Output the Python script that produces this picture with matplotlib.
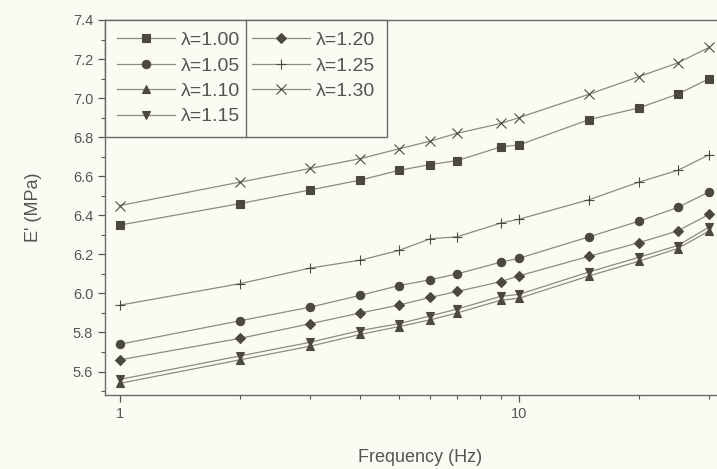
import matplotlib.pyplot as plt
from matplotlib.ticker import FixedLocator, NullFormatter, MultipleLocator

plt.rcParams['font.family'] = ['Liberation Sans', 'DejaVu Sans']

freq = [1, 2, 3, 4, 5, 6, 7, 9, 10, 15, 20, 25, 30]

e_100 = [6.35, 6.46, 6.53, 6.58, 6.63, 6.66, 6.68, 6.75, 6.76, 6.89, 6.95, 7.02, 7.10]
e_105 = [5.74, 5.86, 5.93, 5.99, 6.04, 6.07, 6.10, 6.16, 6.18, 6.29, 6.37, 6.44, 6.52]
e_110 = [5.54, 5.66, 5.73, 5.79, 5.83, 5.865, 5.90, 5.965, 5.975, 6.09, 6.165, 6.23, 6.32]
e_115 = [5.56, 5.68, 5.75, 5.81, 5.845, 5.885, 5.92, 5.985, 5.995, 6.11, 6.185, 6.245, 6.34]
e_120 = [5.66, 5.77, 5.845, 5.90, 5.94, 5.98, 6.01, 6.06, 6.09, 6.19, 6.26, 6.32, 6.405]
e_125 = [5.94, 6.05, 6.13, 6.17, 6.22, 6.28, 6.29, 6.36, 6.38, 6.48, 6.57, 6.63, 6.71]
e_130 = [6.45, 6.57, 6.64, 6.69, 6.74, 6.78, 6.82, 6.87, 6.90, 7.02, 7.11, 7.18, 7.26]

series = [
    ('λ=1.00', e_100, 's'),
    ('λ=1.05', e_105, 'o'),
    ('λ=1.10', e_110, '^'),
    ('λ=1.15', e_115, 'v'),
    ('λ=1.20', e_120, 'D'),
    ('λ=1.25', e_125, '+'),
    ('λ=1.30', e_130, 'x'),
]

bg = '#fbfbf4'
ink = '#4a4840'
line_c = '#8c8a82'
txt = '#555550'

fig = plt.figure(figsize=(7.17, 4.69), dpi=100, facecolor=bg)
ax = fig.add_axes([0.1464, 0.1578, 0.88, 0.7996], facecolor=bg)

for label, vals, m in series:
    size = {'+': 7, 'x': 7, 'D': 5.5}.get(m, 6)
    ax.plot(freq, vals, color=line_c, lw=0.9, marker=m, markersize=size,
            markerfacecolor=ink, markeredgecolor=ink, markeredgewidth=0.8,
            label=label)

ax.set_xscale('log')
ax.set_xlim(0.917, 35)
ax.set_ylim(5.48, 7.4)

ax.xaxis.set_major_locator(FixedLocator([1, 10]))
ax.xaxis.set_minor_locator(FixedLocator([2, 3, 4, 5, 6, 7, 8, 9, 20, 30]))
ax.xaxis.set_minor_formatter(NullFormatter())
ax.set_xticklabels(['1', '10'])
ax.yaxis.set_major_locator(MultipleLocator(0.2))
ax.yaxis.set_minor_locator(MultipleLocator(0.1))
ax.yaxis.set_major_formatter(plt.FormatStrFormatter('%.1f'))

ax.tick_params(which='both', direction='out', colors=txt, labelsize=10.5,
               top=False, right=False)
ax.tick_params(which='major', length=5, width=0.9)
ax.tick_params(which='minor', length=3, width=0.8)
for s in ax.spines.values():
    s.set_color('#6a6862')
    s.set_linewidth(1.0)

ax.set_xlabel('Frequency (Hz)', fontsize=13, color=txt, labelpad=20)
ax.set_ylabel("E' (MPa)", fontsize=13, color=txt, labelpad=22)

leg = ax.legend(ncol=2, loc='upper left', bbox_to_anchor=(0.0, 1.0),
                fontsize=14, frameon=True, fancybox=False, borderaxespad=0,
                handlelength=3.0, labelspacing=0.4, columnspacing=0.6,
                handletextpad=0.3, borderpad=0.6)
leg.get_frame().set_edgecolor('#6a6862')
leg.get_frame().set_linewidth(1.0)
leg.get_frame().set_facecolor(bg)
leg.get_frame().set_alpha(1)
for t in leg.get_texts():
    t.set_color(txt)

# divider between the two legend columns
fig.canvas.draw()
bb = leg.get_window_extent()
col_boxes = [c.get_window_extent() for c in leg._legend_handle_box.get_children()]
if len(col_boxes) == 2:
    xdiv = (col_boxes[0].x1 + col_boxes[1].x0) / 2
    inv = fig.transFigure.inverted()
    (x0, y0) = inv.transform((xdiv, bb.y0))
    (_, y1) = inv.transform((xdiv, bb.y1))
    fig.add_artist(plt.Line2D([x0, x0], [y0, y1], color='#6a6862', lw=1.0))

fig.savefig('out.png', dpi=100, facecolor=bg)
